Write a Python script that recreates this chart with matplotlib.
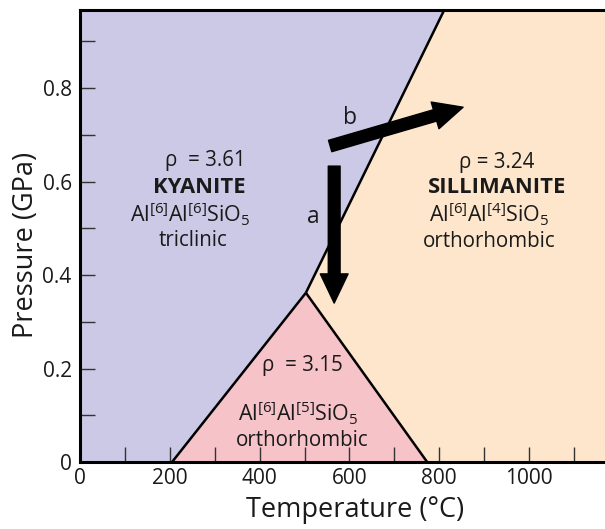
import matplotlib
matplotlib.use("Agg")
import matplotlib.pyplot as plt
from matplotlib.patches import Polygon, FancyArrowPatch
from matplotlib.ticker import MultipleLocator

plt.rcParams['font.family'] = ['Open Sans', 'DejaVu Sans']
plt.rcParams['mathtext.fontset'] = 'custom'
plt.rcParams['mathtext.rm'] = 'Open Sans'
plt.rcParams['mathtext.it'] = 'Open Sans:italic'
plt.rcParams['mathtext.bf'] = 'Open Sans:bold'

# ---- data (Temperature in °C, Pressure in GPa) ----
x_limits = [0, 1169]
y_limits = [0, 0.967]
triple_point = [503, 0.362]
ky_and_base = [205, 0.0]        # kyanite/andalusite boundary at P = 0
and_sil_base = [773, 0.0]       # andalusite/sillimanite boundary at P = 0
ky_sil_top = [811, 0.967]       # kyanite/sillimanite boundary at top
arrow_a = [[566, 0.633], [566, 0.340]]
arrow_b = [[557, 0.676], [853, 0.759]]
x_ticks = [0, 200, 400, 600, 800, 1000]
y_ticks = [0, 0.2, 0.4, 0.6, 0.8]
y_tick_labels = ['0', '0.2', '0.4', '0.6', '0.8']

col_ky = '#cbc9e6'
col_sil = '#fde6cc'
col_and = '#f6c3c9'

fig = plt.figure(figsize=(6.05, 5.29), dpi=100)
ax = fig.add_axes([80/605, 67/529, 525/605, 452/529])
ax.set_xlim(*x_limits)
ax.set_ylim(*y_limits)

xmin, xmax = x_limits
ymin, ymax = y_limits

ky_poly = [(xmin, ymin), tuple(ky_and_base), tuple(triple_point), tuple(ky_sil_top), (xmin, ymax)]
sil_poly = [tuple(triple_point), tuple(and_sil_base), (xmax, ymin), (xmax, ymax), tuple(ky_sil_top)]
and_poly = [tuple(ky_and_base), tuple(triple_point), tuple(and_sil_base)]

ax.add_patch(Polygon(ky_poly, closed=True, facecolor=col_ky, edgecolor='none', zorder=0))
ax.add_patch(Polygon(sil_poly, closed=True, facecolor=col_sil, edgecolor='none', zorder=0))
ax.add_patch(Polygon(and_poly, closed=True, facecolor=col_and, edgecolor='none', zorder=0))

for a, b in [(ky_and_base, triple_point), (triple_point, and_sil_base), (triple_point, ky_sil_top)]:
    ax.plot([a[0], b[0]], [a[1], b[1]], color='black', lw=1.8, zorder=2, solid_capstyle='butt')

style = "simple,head_length=21,head_width=20,tail_width=8.5"
for (p0, p1) in [arrow_a, arrow_b]:
    ax.add_patch(FancyArrowPatch(tuple(p0), tuple(p1), arrowstyle=style, mutation_scale=1,
                                 color='black', shrinkA=0, shrinkB=0, zorder=4))

ax.text(601, 0.736, 'b', fontsize=16.5, ha='center', va='center', color='#1a1a1a')
ax.text(519, 0.524, 'a', fontsize=16.5, ha='center', va='center', color='#1a1a1a')

fs = 14.8
ffs = 15.5
tc = '#1a1a1a'
# Kyanite
ax.text(280, 0.645, 'ρ  = 3.61', fontsize=fs, ha='center', va='center', color=tc)
ax.text(265, 0.588, 'KYANITE', fontsize=fs + 1, fontweight='bold', ha='center', va='center', color=tc)
ax.text(245, 0.530, r'Al$^{\mathrm{[6]}}$Al$^{\mathrm{[6]}}$SiO$_{\mathrm{5}}$', fontsize=ffs, ha='center', va='center', color=tc)
ax.text(252, 0.473, 'triclinic', fontsize=fs, ha='center', va='center', color=tc)
# Sillimanite
ax.text(928, 0.640, 'ρ = 3.24', fontsize=fs, ha='center', va='center', color=tc)
ax.text(928, 0.588, 'SILLIMANITE', fontsize=fs + 1, fontweight='bold', ha='center', va='center', color=tc)
ax.text(912, 0.530, r'Al$^{\mathrm{[6]}}$Al$^{\mathrm{[4]}}$SiO$_{\mathrm{5}}$', fontsize=ffs, ha='center', va='center', color=tc)
ax.text(912, 0.472, 'orthorhombic', fontsize=fs, ha='center', va='center', color=tc)
# Andalusite
ax.text(495, 0.207, 'ρ  = 3.15', fontsize=fs, ha='center', va='center', color=tc)
ax.text(487, 0.104, r'Al$^{\mathrm{[6]}}$Al$^{\mathrm{[5]}}$SiO$_{\mathrm{5}}$', fontsize=ffs, ha='center', va='center', color=tc)
ax.text(495, 0.047, 'orthorhombic', fontsize=fs, ha='center', va='center', color=tc)

# axes styling
ax.spines['right'].set_visible(False)
for s in ['left', 'bottom', 'top']:
    ax.spines[s].set_linewidth(2.2)
    ax.spines[s].set_zorder(5)

ax.set_xticks(x_ticks)
ax.set_xticklabels([str(t) for t in x_ticks])
ax.xaxis.set_minor_locator(MultipleLocator(100))
ax.set_yticks(y_ticks)
ax.set_yticklabels(y_tick_labels)
ax.yaxis.set_minor_locator(MultipleLocator(0.1))
ax.tick_params(axis='both', which='both', direction='in', length=10.5, width=1.0, color='#333333',
               labelsize=15, labelcolor='#1a1a1a')
ax.tick_params(axis='x', which='both', top=False, pad=4)
ax.tick_params(axis='y', which='both', right=False, pad=6)

ax.set_xlabel('Temperature (°C)', fontsize=19.5, color='#1a1a1a')
ax.set_ylabel('Pressure (GPa)', fontsize=19.5, color='#1a1a1a')
ax.xaxis.set_label_coords(275/525, -34/452)
ax.yaxis.set_label_coords(-40/525, 217/452)

fig.savefig('out.png', dpi=100)
